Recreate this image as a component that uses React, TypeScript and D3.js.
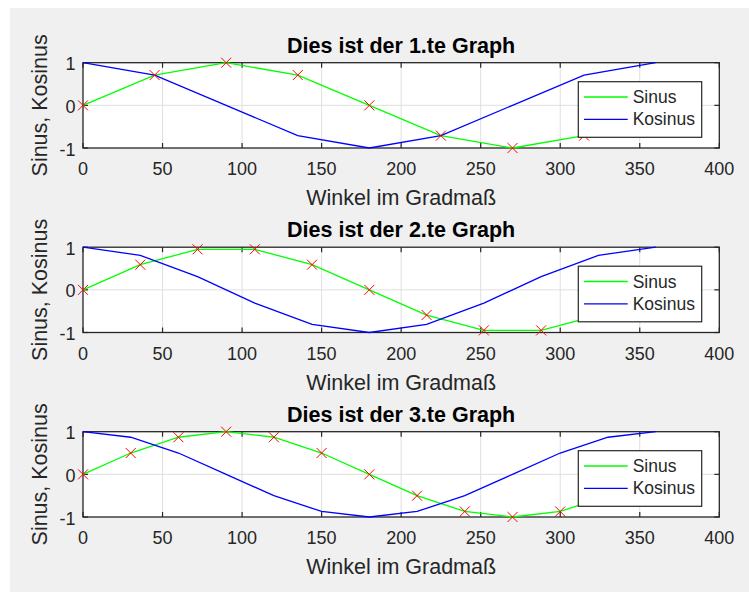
import React from 'react'
import * as d3 from 'd3'

// Werte
const TITLES = ['Dies ist der 1.te Graph', 'Dies ist der 2.te Graph', 'Dies ist der 3.te Graph']
const X_LABEL = 'Winkel im Gradmaß'
const Y_LABEL = 'Sinus, Kosinus'
const LEGEND = ['Sinus', 'Kosinus']

const ANGLES_1 = [0, 45, 90, 135, 180, 225, 270, 315, 360]
const SINUS_1 = [0, 0.71, 1, 0.71, 0, -0.71, -1, -0.71, 0]
const KOSINUS_1 = [1, 0.71, 0, -0.71, -1, -0.71, 0, 0.71, 1]

const ANGLES_2 = [0, 36, 72, 108, 144, 180, 216, 252, 288, 324, 360]
const SINUS_2 = [0, 0.59, 0.95, 0.95, 0.59, 0, -0.59, -0.95, -0.95, -0.59, 0]
const KOSINUS_2 = [1, 0.81, 0.31, -0.31, -0.81, -1, -0.81, -0.31, 0.31, 0.81, 1]

const ANGLES_3 = [0, 30, 60, 90, 120, 150, 180, 210, 240, 270, 300, 330, 360]
const SINUS_3 = [0, 0.5, 0.87, 1, 0.87, 0.5, 0, -0.5, -0.87, -1, -0.87, -0.5, 0]
const KOSINUS_3 = [1, 0.87, 0.5, 0, -0.5, -0.87, -1, -0.87, -0.5, 0, 0.5, 0.87, 1]

const X_TICKS = [0, 50, 100, 150, 200, 250, 300, 350, 400]
const Y_TICKS = [-1, 0, 1]

const PANELS = [
  { title: TITLES[0], angles: ANGLES_1, sin: SINUS_1, cos: KOSINUS_1 },
  { title: TITLES[1], angles: ANGLES_2, sin: SINUS_2, cos: KOSINUS_2 },
  { title: TITLES[2], angles: ANGLES_3, sin: SINUS_3, cos: KOSINUS_3 },
]

const W = 749
const H = 592
const LEFT = 83
const RIGHT = 719.3
const TOPS = [62.7, 247.2, 431.7]
const PH = 85.3
const FONT = '"Liberation Sans", Arial, Helvetica, sans-serif'
const AXC = '#262626'

function Panel({ p, top }) {
  const x = d3.scaleLinear().domain([0, 400]).range([LEFT, RIGHT])
  const y = d3.scaleLinear().domain([-1, 1]).range([top + PH, top])
  const line = d3.line().x(d => x(d[0])).y(d => y(d[1]))
  const sinPts = p.angles.map((a, i) => [a, p.sin[i]])
  const cosPts = p.angles.map((a, i) => [a, p.cos[i]])
  const tl = 5
  const lgX = RIGHT - 17.6 - 123.4
  const lgY = top + 19

  return (
    <g>
      <rect x={LEFT} y={top} width={RIGHT - LEFT} height={PH} fill="#fff" />
      {/* grid */}
      {X_TICKS.slice(1, -1).map(t => (
        <line key={'gx' + t} x1={x(t)} x2={x(t)} y1={top} y2={top + PH} stroke="#dfdfdf" strokeWidth={1} />
      ))}
      <line x1={LEFT} x2={RIGHT} y1={y(0)} y2={y(0)} stroke="#dfdfdf" strokeWidth={1} />
      {/* box + ticks */}
      <rect x={LEFT} y={top} width={RIGHT - LEFT} height={PH} fill="none" stroke={AXC} strokeWidth={1.3} />
      {X_TICKS.map(t => (
        <g key={'tx' + t}>
          <line x1={x(t)} x2={x(t)} y1={top + PH} y2={top + PH - tl} stroke={AXC} strokeWidth={1.2} />
          <line x1={x(t)} x2={x(t)} y1={top} y2={top + tl} stroke={AXC} strokeWidth={1.2} />
          <text x={x(t)} y={top + PH + 27} textAnchor="middle" fontSize={18} fill={AXC}>{t}</text>
        </g>
      ))}
      {Y_TICKS.map(t => (
        <g key={'ty' + t}>
          <line x1={LEFT} x2={LEFT + tl} y1={y(t)} y2={y(t)} stroke={AXC} strokeWidth={1.2} />
          <line x1={RIGHT} x2={RIGHT - tl} y1={y(t)} y2={y(t)} stroke={AXC} strokeWidth={1.2} />
          <text x={75.5} y={y(t) + 7.5} textAnchor="end" fontSize={18} fill={AXC}>{t}</text>
        </g>
      ))}
      {/* data */}
      <path d={line(sinPts)} fill="none" stroke="#00ff00" strokeWidth={1.3} />
      <path d={line(cosPts)} fill="none" stroke="#0000ff" strokeWidth={1.3} />
      {sinPts.map((d, i) => {
        const cx = x(d[0]), cy = y(d[1]), s = 5
        return (
          <path key={'m' + i} d={`M${cx - s},${cy - s}L${cx + s},${cy + s}M${cx - s},${cy + s}L${cx + s},${cy - s}`}
            stroke="#ff0000" strokeWidth={1} fill="none" />
        )
      })}
      {/* labels */}
      <text x={(LEFT + RIGHT) / 2} y={top - 10} textAnchor="middle" fontSize={21.5} fontWeight="bold" fill="#000">{p.title}</text>
      <text x={(LEFT + RIGHT) / 2} y={top + PH + 57} textAnchor="middle" fontSize={21.5} fill={AXC}>{X_LABEL}</text>
      <text transform={`translate(47,${top + PH / 2}) rotate(-90)`} textAnchor="middle" fontSize={21.5} fill={AXC}>{Y_LABEL}</text>
      {/* legend */}
      <rect x={lgX} y={lgY} width={123.4} height={55.6} fill="#fff" stroke={AXC} strokeWidth={1.2} />
      {LEGEND.map((name, i) => {
        const ly = lgY + 15.3 + i * 22.3
        return (
          <g key={name}>
            <line x1={lgX + 5.7} x2={lgX + 49.4} y1={ly} y2={ly} stroke={i === 0 ? '#00ff00' : '#0000ff'} strokeWidth={1.3} />
            <text x={lgX + 54.4} y={ly + 6} fontSize={17.5} fill={AXC}>{name}</text>
          </g>
        )
      })}
    </g>
  )
}

export default function App() {
  return (
    <svg width={W} height={H} style={{ position: 'absolute', left: 0, top: 0, fontFamily: FONT }}>
      <rect x={0} y={0} width={W} height={H} fill="#fff" />
      <rect x={10} y={8} width={W - 10} height={H - 8} fill="#f0f0f0" />
      {PANELS.map((p, i) => <Panel key={i} p={p} top={TOPS[i]} />)}
    </svg>
  )
}
